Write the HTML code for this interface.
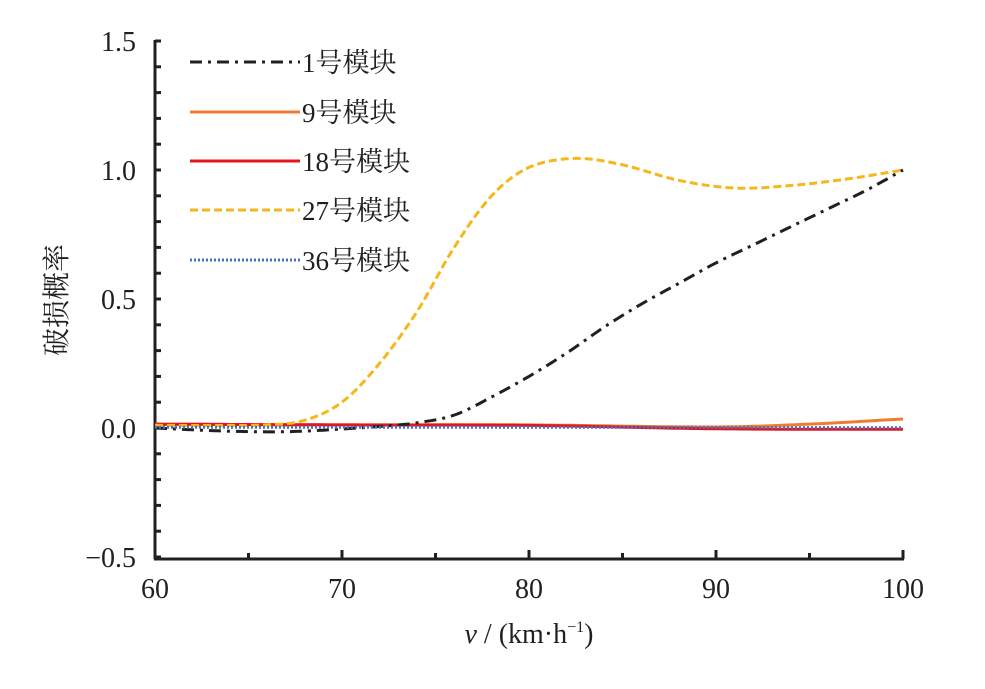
<!DOCTYPE html>
<html><head><meta charset="utf-8"><style>
body{margin:0;background:#fff}
text{font-family:"Liberation Serif","Noto Serif CJK SC",serif;fill:#231f20}
</style></head><body>
<svg id="s" width="985" height="684" xmlns="http://www.w3.org/2000/svg">
<g id="ax" stroke="#231f20" stroke-width="3" fill="none">
<line x1="155" y1="40" x2="155" y2="559"/>
<line x1="154" y1="559" x2="904" y2="559"/>
</g>
<g font-size="28" text-anchor="end">
<text x="136" y="51">1.5</text>
<text x="136" y="180">1.0</text>
<text x="136" y="309">0.5</text>
<text x="136" y="438">0.0</text>
<text x="136" y="567">−0.5</text>
</g>
<g font-size="28" text-anchor="middle">
<text x="155" y="598">60</text>
<text x="342" y="598">70</text>
<text x="529" y="598">80</text>
<text x="716" y="598">90</text>
<text x="903" y="598">100</text>
<text x="529" y="643"><tspan font-style="italic">v</tspan> / (km·h<tspan font-size="16" dy="-11">−1</tspan><tspan dy="11">)</tspan></text>
</g>
<text font-size="28" transform="translate(66,300) rotate(-90)" text-anchor="middle">破损概率</text>
<g id="cv" fill="none"></g>
<g font-size="27">
<line x1="190" y1="62" x2="300" y2="62" stroke="#231f20" stroke-width="3" stroke-dasharray="12,6,3,6"/>
<text x="302" y="72">1号模块</text>
<line x1="190" y1="112" x2="300" y2="112" stroke="#ed7d31" stroke-width="3"/>
<text x="302" y="122">9号模块</text>
<line x1="190" y1="161" x2="300" y2="161" stroke="#e8141c" stroke-width="3"/>
<text x="302" y="171">18号模块</text>
<line x1="190" y1="210" x2="300" y2="210" stroke="#f5b71c" stroke-width="3" stroke-dasharray="8,4"/>
<text x="302" y="220">27号模块</text>
<line x1="190" y1="260" x2="300" y2="260" stroke="#4472c4" stroke-width="3" stroke-dasharray="2,2"/>
<text x="302" y="270">36号模块</text>
</g>
</svg>
<script>
var NS="http://www.w3.org/2000/svg";
function X(v){return 155+(v-60)*18.7}
function Y(p){return 428-p*258}
var ax=document.getElementById('ax');
function ln(a,b,c,d){var l=document.createElementNS(NS,'line');l.setAttribute('x1',a);l.setAttribute('y1',b);l.setAttribute('x2',c);l.setAttribute('y2',d);ax.appendChild(l)}
for(var i=-5;i<=15;i++){ln(155,Y(i/10),161,Y(i/10))}
for(var v=65;v<=100;v+=5){ln(X(v),559,X(v),v%10?553:550)}
function interp(pts){
 var out=[];for(var v=60;v<=100;v+=0.25){var k=0;while(k<pts.length-2&&pts[k+1][0]<v)k++;
 var p0=pts[Math.max(k-1,0)],p1=pts[k],p2=pts[k+1],p3=pts[Math.min(k+2,pts.length-1)];
 var t=(v-p1[0])/(p2[0]-p1[0]);var t2=t*t,t3=t2*t;
 var m1=(p2[1]-p0[1])/(p2[0]-p0[0])*(p2[0]-p1[0]),m2=(p3[1]-p1[1])/(p3[0]-p1[0])*(p2[0]-p1[0]);
 var y=(2*t3-3*t2+1)*p1[1]+(t3-2*t2+t)*m1+(-2*t3+3*t2)*p2[1]+(t3-t2)*m2;
 out.push(X(v).toFixed(1)+','+Y(y).toFixed(1));}return 'M'+out.join('L');}
var cv=document.getElementById('cv');
function add(pts,col,dash){var p=document.createElementNS(NS,'path');p.setAttribute('d',interp(pts));p.setAttribute('stroke',col);p.setAttribute('stroke-width',3);if(dash)p.setAttribute('stroke-dasharray',dash);cv.appendChild(p)}
add([[60,0.015],[70,0.012],[80,0.012],[90,0.004],[95,0.015],[100,0.035]],'#ed7d31');
add([[60,0.015],[70,0.012],[80,0.01],[90,-0.003],[100,-0.005]],'#e8141c');
add([[60,0.01],[64,0.01],[66,0.012],[68,0.03],[70,0.1],[72,0.25],[74,0.45],[76,0.7],[78,0.9],[80,1.01],[82.5,1.045],[85,1.02],[88,0.96],[91,0.93],[94,0.94],[97,0.965],[100,1.0]],'#f5b71c','8,4');
add([[60,0],[63,-0.01],[66,-0.015],[68,-0.012],[70,-0.004],[72,0.006],[74,0.02],[76,0.05],[78,0.12],[80,0.2],[82,0.29],[84,0.39],[86,0.48],[88,0.56],[90,0.64],[92,0.71],[94,0.78],[96,0.85],[98,0.92],[100,1.0]],'#231f20','12,6,3,6');
add([[60,0.003],[80,0.003],[100,0.001]],'#4472c4','2,2');
</script>
</body></html>
